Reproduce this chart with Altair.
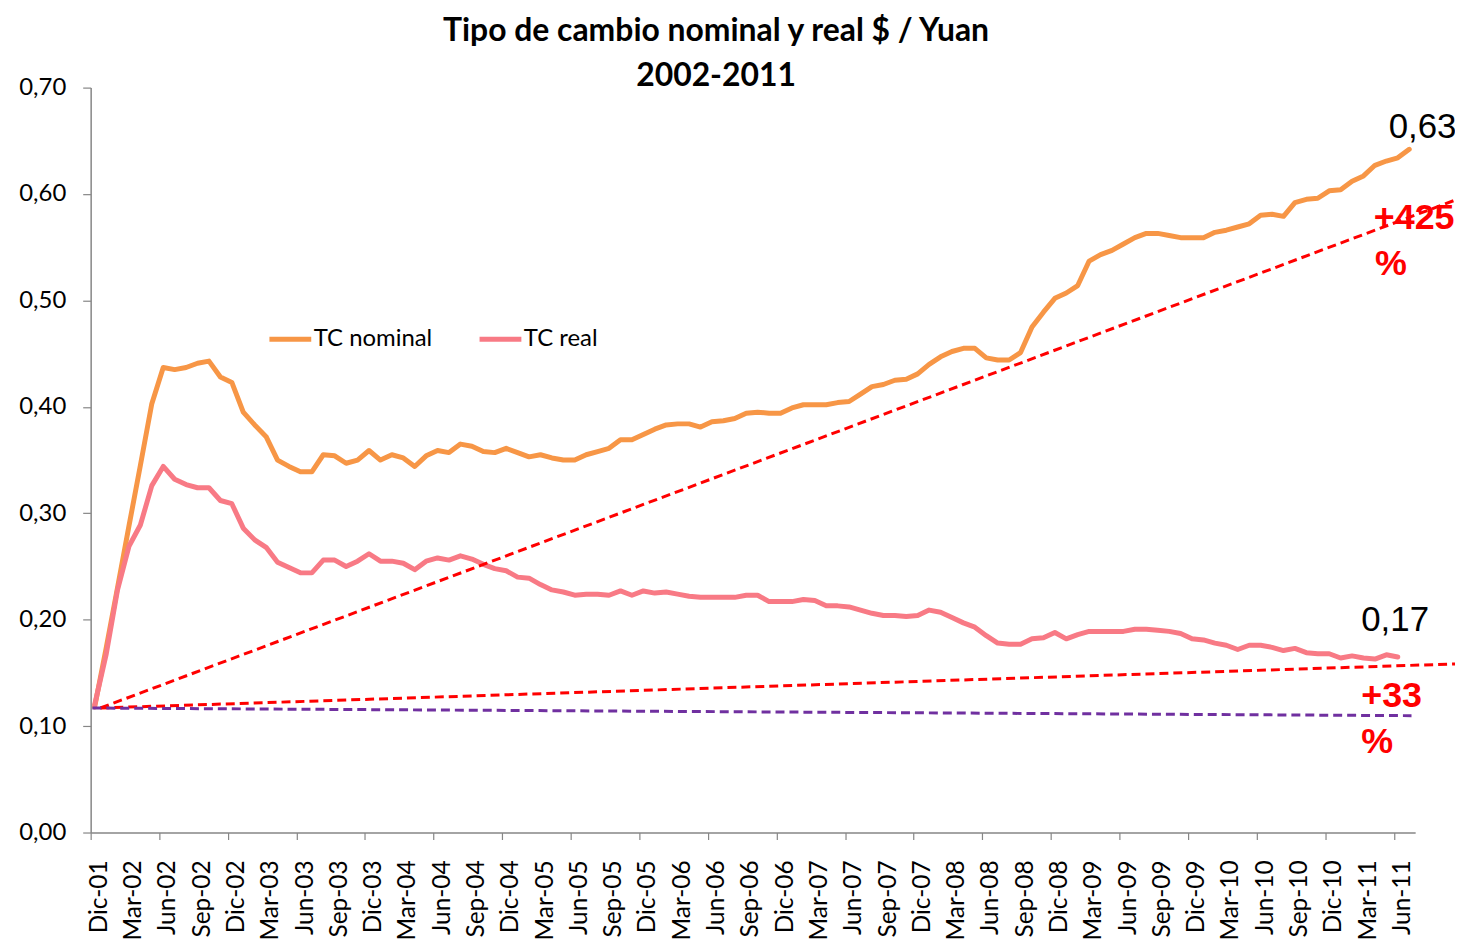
import altair as alt
import pandas as pd

# Monthly values, Dic-01 (index 0) onward
nominal = [0.118, 0.173, 0.230, 0.288, 0.345, 0.403, 0.437, 0.435, 0.437, 0.441,
           0.443, 0.428, 0.423, 0.395, 0.383, 0.372, 0.350, 0.344, 0.339, 0.339,
           0.355, 0.354, 0.347, 0.350, 0.359, 0.350, 0.355, 0.352, 0.344, 0.354,
           0.359, 0.357, 0.365, 0.363, 0.358, 0.357, 0.361, 0.357, 0.353, 0.355,
           0.352, 0.350, 0.350, 0.355, 0.358, 0.361, 0.369, 0.369, 0.374, 0.379,
           0.383, 0.384, 0.384, 0.381, 0.386, 0.387, 0.389, 0.394, 0.395, 0.394,
           0.394, 0.399, 0.402, 0.402, 0.402, 0.404, 0.405, 0.412, 0.419, 0.421,
           0.425, 0.426, 0.431, 0.440, 0.447, 0.452, 0.455, 0.455, 0.446, 0.444,
           0.444, 0.451, 0.475, 0.489, 0.502, 0.507, 0.514, 0.537, 0.543, 0.547,
           0.553, 0.559, 0.563, 0.563, 0.561, 0.559, 0.559, 0.559, 0.564, 0.566,
           0.569, 0.572, 0.580, 0.581, 0.579, 0.592, 0.595, 0.596, 0.603, 0.604,
           0.612, 0.617, 0.627, 0.631, 0.634, 0.642]

real = [0.120, 0.167, 0.228, 0.269, 0.289, 0.326, 0.344, 0.332, 0.327, 0.324,
        0.324, 0.312, 0.309, 0.286, 0.275, 0.268, 0.254, 0.249, 0.244, 0.244,
        0.256, 0.256, 0.250, 0.255, 0.262, 0.255, 0.255, 0.253, 0.247, 0.255,
        0.258, 0.256, 0.260, 0.257, 0.252, 0.248, 0.246, 0.240, 0.239, 0.233,
        0.228, 0.226, 0.223, 0.224, 0.224, 0.223, 0.227, 0.223, 0.227, 0.225,
        0.226, 0.224, 0.222, 0.221, 0.221, 0.221, 0.221, 0.223, 0.223, 0.217,
        0.217, 0.217, 0.219, 0.218, 0.213, 0.213, 0.212, 0.209, 0.206, 0.204,
        0.204, 0.203, 0.204, 0.209, 0.207, 0.202, 0.197, 0.193, 0.185, 0.178,
        0.177, 0.177, 0.182, 0.183, 0.188, 0.182, 0.186, 0.189, 0.189, 0.189,
        0.189, 0.191, 0.191, 0.190, 0.189, 0.187, 0.182, 0.181, 0.178, 0.176,
        0.172, 0.176, 0.176, 0.174, 0.171, 0.173, 0.169, 0.168, 0.168, 0.164,
        0.166, 0.164, 0.163, 0.167, 0.165]

tick_labels = ["Dic-01", "Mar-02", "Jun-02", "Sep-02", "Dic-02", "Mar-03", "Jun-03",
               "Sep-03", "Dic-03", "Mar-04", "Jun-04", "Sep-04", "Dic-04", "Mar-05",
               "Jun-05", "Sep-05", "Dic-05", "Mar-06", "Jun-06", "Sep-06", "Dic-06",
               "Mar-07", "Jun-07", "Sep-07", "Dic-07", "Mar-08", "Jun-08", "Sep-08",
               "Dic-08", "Mar-09", "Jun-09", "Sep-09", "Dic-09", "Mar-10", "Jun-10",
               "Sep-10", "Dic-10", "Mar-11", "Jun-11"]

y_ticks = [0.0, 0.1, 0.2, 0.3, 0.4, 0.5, 0.6, 0.7]

# Guide lines (start/end month index and value)
trend_ids = ["nominal", "nominal", "real", "real"]
trend_i = [0.5, 119.2, 0.5, 119.2]
trend_v = [0.117, 0.595, 0.117, 0.1585]
flat_i = [-0.2, 115.2]
flat_v = [0.117, 0.1098]

# Annotations
ann_text = ["0,63", "0,17"]
ann_i = [113.2, 110.8]
ann_v = [0.653, 0.189]
pct_text = ["+425", "%", "+33", "%"]
pct_i = [111.9, 112.0, 110.8, 110.8]
pct_v = [0.567, 0.524, 0.118, 0.075]

series = pd.DataFrame(
    [{"i": k, "v": val, "serie": "TC nominal"} for k, val in enumerate(nominal)]
    + [{"i": k, "v": val, "serie": "TC real"} for k, val in enumerate(real)]
)
trend_df = pd.DataFrame({"id": trend_ids, "i": trend_i, "v": trend_v})
flat_df = pd.DataFrame({"i": flat_i, "v": flat_v})
ann_df = pd.DataFrame({"t": ann_text, "i": ann_i, "v": ann_v})
pct_df = pd.DataFrame({"t": pct_text, "i": pct_i, "v": pct_v})
tick_df = pd.DataFrame({"lab": tick_labels, "i": [3 * k for k in range(len(tick_labels))]})

x_scale = alt.Scale(domain=[-0.35, 115.52], nice=False, zero=False)
y_scale = alt.Scale(domain=[0, 0.7], nice=False)
grey = "#868686"

x_axis = alt.Axis(
    values=[3 * k for k in range(len(tick_labels))],
    labels=False, tickSize=7, tickOffset=-4,
    domainColor=grey, tickColor=grey, domainWidth=1.5, tickWidth=1.2,
    grid=False, title=None,
)
y_axis = alt.Axis(
    values=y_ticks,
    labelExpr="replace(format(datum.value, '.2f'), '.', ',')",
    tickSize=8, labelPadding=17, labelFont="Lato", labelFontSize=24,
    labelColor="black", domainColor=grey, tickColor=grey, domainWidth=1.5,
    tickWidth=1.2, grid=False, title=None,
)

lines = alt.Chart(series).mark_line(strokeWidth=5, strokeCap="round", strokeJoin="round").encode(
    x=alt.X("i:Q", scale=x_scale, axis=x_axis),
    y=alt.Y("v:Q", scale=y_scale, axis=y_axis),
    color=alt.Color(
        "serie:N",
        scale=alt.Scale(domain=["TC nominal", "TC real"], range=["#F79646", "#F87A85"]),
        legend=alt.Legend(
            orient="none", legendX=177, legendY=229, direction="horizontal",
            title=None, symbolType="stroke", symbolSize=1764, symbolStrokeWidth=5,
            labelFont="Lato", labelFontSize=24, labelOffset=0, columnPadding=36,
            labelLimit=400, labelColor="black",
        ),
    ),
    order="i:Q",
)

# Month labels under the x axis, rotated and right-aligned against the axis
xlabels = alt.Chart(tick_df).transform_calculate(
    xl="datum.i + 0.45"
).mark_text(
    angle=270, align="right", baseline="middle", font="Lato",
    fontSize=24.5, color="black", clip=False
).encode(x="xl:Q", y=alt.value(776), text="lab:N")

trends = alt.Chart(trend_df).mark_line(
    color="#FF0000", strokeWidth=3, strokeDash=[9, 5], clip=False
).encode(x="i:Q", y="v:Q", detail="id:N")

flat = alt.Chart(flat_df).mark_line(
    color="#7030A0", strokeWidth=3, strokeDash=[9, 5], clip=False
).encode(x="i:Q", y="v:Q")

ann = alt.Chart(ann_df).mark_text(
    align="left", baseline="alphabetic", font="Liberation Sans", fontSize=35,
    color="black", clip=False
).encode(x="i:Q", y="v:Q", text="t:N")

pct = alt.Chart(pct_df).mark_text(
    align="left", baseline="alphabetic", font="Liberation Sans", fontSize=36,
    fontWeight="bold", color="#FF0000", clip=False
).encode(x="i:Q", y="v:Q", text="t:N")

chart = alt.layer(lines, trends, flat, ann, pct, xlabels).properties(
    width=1330, height=748,
    padding={"left": 83, "top": 78, "right": 40, "bottom": 110},
    autosize=alt.AutoSizeParams(type="none"),
    title=alt.TitleParams(
        text=["Tipo de cambio nominal y real $ / Yuan", "2002-2011"],
        font="Lato", fontSize=32, fontWeight="bold", color="black",
        anchor="middle", dx=-37, dy=21, offset=4, lineHeight=45,
    ),
).configure_view(stroke=None)

chart.save("out.html", embed_options={"renderer": "svg", "actions": False})
